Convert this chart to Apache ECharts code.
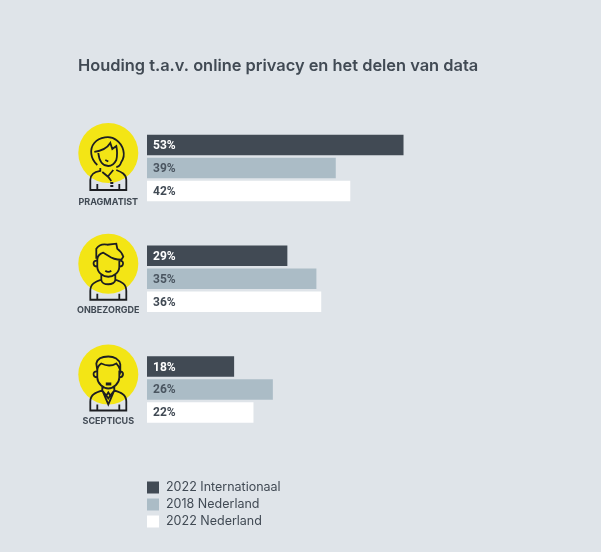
<!DOCTYPE html>
<html>
<head>
<meta charset="utf-8">
<style>
html, body { margin: 0; padding: 0; background: #dfe4e9; }
#main { width: 601px; height: 552px; }
</style>
<script src="https://cdn.jsdelivr.net/npm/echarts@6/dist/echarts.min.js"></script>
</head>
<body>
<div id="main"></div>
<script>
var titleText = 'Houding t.a.v. online privacy en het delen van data';
var categories = ['PRAGMATIST', 'ONBEZORGDE', 'SCEPTICUS'];
var international2022 = [53, 29, 18];
var nederland2018 = [39, 35, 26];
var nederland2022 = [42, 36, 22];

var dark = '#414a54';
var mid = '#abbcc6';
var yellow = '#f3e515';
var line = '#1d1e22';

// icon outlines, origin is the circle centre
var icons = [
    'M-11,12 C-18,6 -19,-4 -14,-10 C-9,-16 2,-18 8,-13 C15,-8 18,2 13,9 C12,12 10,14 8,14 ' +
    'M-14,-1 C-8,-2 -1,-5 2,-10 L4,-4 L8,-7 C9,-2 9,3 8,7 C6,11 3,13 0,13 C-5,13 -9,9 -10,0 ' +
    'M-3,7 L0,8.5 ' +
    'M-8,15 L-8,18 C-14,19 -18,21 -18,27 L-18,37 L18,37 L18,27 C18,21 13,19 8,17 ' +
    'M-6,19 L0,24 L3,28 M5,17 L0,23 ' +
    'M-11,31 L-11,37 M11,31 L11,37 M2,30 L5,30 M2,33 L5,33',
    'M-12,-5 L-12,-15 C-10,-18 -6,-20 -1,-19 L8,-20 L9,-15 C12,-13 14,-10 15,-7 L13,-4 C9,-4 4,-5 0,-8 L-5,-11 C-8,-10 -11,-8 -11,-4 ' +
    'M-11,-4 L-11,3 C-11,9 -5,13 0,13 C5,13 11,9 11,3 L11,-4 ' +
    'M-11,-3 C-16,-4 -16,3 -11,3 M11,-3 C16,-4 16,3 11,3 ' +
    'M-3,7 C-1,8.5 1,8.5 3,7 ' +
    'M-7,11 L-7,16 C-7,22 7,22 7,16 L7,11 ' +
    'M-7,16 C-13,18 -18,20 -18,27 L-18,36 L18,36 L18,27 C18,20 13,18 7,16 ' +
    'M-11,30 L-11,36 M11,30 L11,36',
    'M-11,-4 L-12,-11 C-11,-16 -6,-18 0,-18 C6,-18 11,-15 12,-10 L12,-4 C11,-7 10,-9 8,-11 C3,-8 -3,-9 -7,-11 C-10,-9 -11,-7 -11,-4 ' +
    'M-11,-4 L-11,3 C-11,9 -5,14 0,14 C5,14 11,9 11,3 L11,-4 ' +
    'M-11,-3 C-16,-4 -16,3 -11,3 M11,-3 C16,-4 16,3 11,3 ' +
    'M-6,12 L-6,16 C-12,18 -18,20 -18,27 L-18,36 L18,36 L18,27 C18,20 12,18 6,16 L6,12 ' +
    'M-6,16 L0,30 L6,16 M-6,16 L-2,21 L0,18 L2,21 L6,16 M-2,21 L0,24 L2,21 ' +
    'M-11,30 L-11,36 M11,30 L11,36'
];
var mouth = 'M-2.5,8 L3,8 L3,11 L-2.5,11 Z';
var labelOffsets = [49, 47, 47];

icons.forEach(function (d, i) {
    echarts.graphic.registerShape('persona' + i, echarts.graphic.extendPath(d, {}));
});
echarts.graphic.registerShape('mouth', echarts.graphic.extendPath(mouth, {}));

var myChart = echarts.init(document.getElementById('main'));

function barSeries(name, data, color, labelColor) {
    return {
        name: name,
        type: 'bar',
        data: data,
        barWidth: 20.5,
        barGap: '12%',
        itemStyle: { color: color },
        label: {
            show: true,
            position: 'insideLeft',
            distance: 6,
            offset: [0, 1],
            formatter: '{c}%',
            color: labelColor,
            fontFamily: 'Roboto',
            fontWeight: 700,
            fontSize: 12
        }
    };
}

var option = {
    backgroundColor: '#dfe4e9',
    animation: false,
    title: {
        text: titleText,
        left: 73,
        top: 53,
        textStyle: { fontFamily: 'Inter', fontWeight: 600, fontSize: 16.4, color: dark }
    },
    legend: {
        left: 142,
        top: 476,
        orient: 'vertical',
        itemWidth: 12,
        itemHeight: 12,
        itemGap: 4,
        icon: 'rect',
        selectedMode: false,
        textStyle: { fontFamily: 'Inter', fontSize: 12.5, color: dark, padding: [0, 0, 0, 2] }
    },
    grid: { left: 147, right: 18.4, top: 112.6, height: 332.25 },
    xAxis: { type: 'value', min: 0, max: 90, show: false },
    yAxis: {
        type: 'category',
        inverse: true,
        data: categories,
        axisLine: { show: false },
        axisTick: { show: false },
        axisLabel: { show: false }
    },
    series: [
        barSeries('2022 Internationaal', international2022, dark, '#ffffff'),
        barSeries('2018 Nederland', nederland2018, mid, '#4a5560'),
        barSeries('2022 Nederland', nederland2022, '#ffffff', dark)
    ]
};

myChart.setOption(option);

// yellow circles with the persona icons, placed from the category scale
var elements = [];
categories.forEach(function (name, i) {
    var p = myChart.convertToPixel({ yAxisIndex: 0 }, name);
    var children = [
        { type: 'circle', shape: { cx: 0, cy: 0, r: 30 }, style: { fill: yellow } },
        { type: 'persona' + i, style: { fill: 'none', stroke: line, lineWidth: 1.8 } },
        { type: 'text', x: 0, y: labelOffsets[i], style: {
            text: name, align: 'center', verticalAlign: 'middle',
            fontFamily: 'Inter', fontWeight: 700, fontSize: 9, fill: dark
        } }
    ];
    if (i === 2) {
        children.push({ type: 'mouth', style: { fill: line } });
    }
    elements.push({ type: 'group', x: 108.3, y: p - 15, children: children });
});
myChart.setOption({ graphic: elements });
</script>
</body>
</html>
